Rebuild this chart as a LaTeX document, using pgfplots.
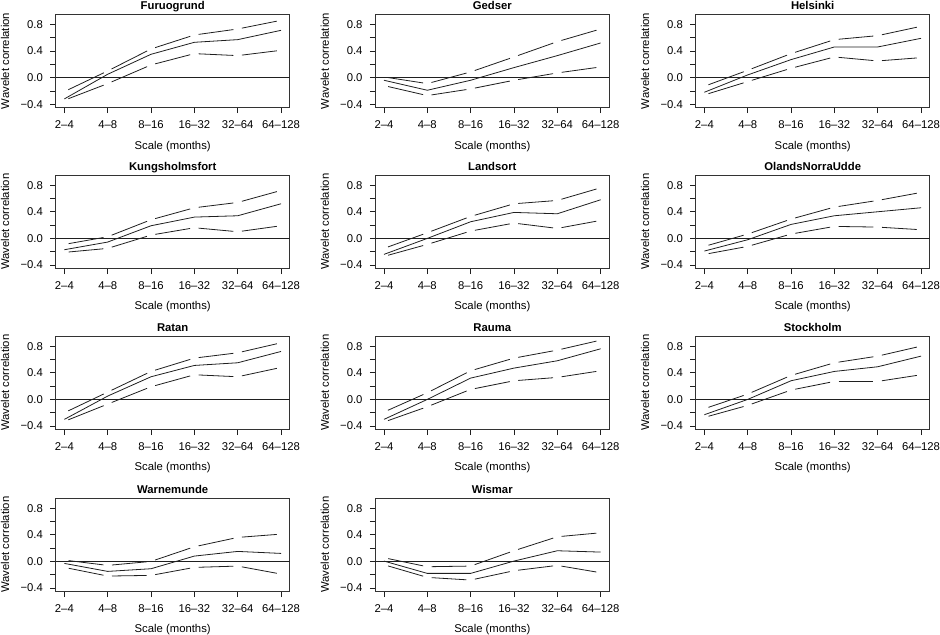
\documentclass[border=0pt]{standalone}
\usepackage{fontspec}
\setmainfont{Liberation Sans}
\usepackage{pgfplots}
\usepackage{pgfplotstable}
\pgfplotsset{compat=1.18}
\usetikzlibrary{decorations.pathreplacing}

\pgfplotstableread{
x M U L
0 -0.32 -0.21 -0.34
1 0.05 0.10 -0.09
2 0.35 0.43 0.19
3 0.53 0.64 0.36
4 0.57 0.73 0.33
5 0.71 0.86 0.41
}\tFuruogrund
\pgfplotstableread{
x M U L
0 -0.04 0.01 -0.12
1 -0.19 -0.09 -0.27
2 -0.04 0.085 -0.17
3 0.15 0.31 -0.04
4 0.33 0.54 0.07
5 0.52 0.73 0.16
}\tGedser
\pgfplotstableread{
x M U L
0 -0.22 -0.13 -0.26
1 0.04 0.11 -0.06
2 0.27 0.36 0.14
3 0.46 0.57 0.31
4 0.46 0.63 0.25
5 0.59 0.77 0.30
}\tHelsinki
\pgfplotstableread{
x M U L
0 -0.17 -0.09 -0.21
1 -0.055 0.025 -0.15
2 0.19 0.28 0.05
3 0.32 0.46 0.16
4 0.34 0.54 0.10
5 0.52 0.72 0.19
}\tKungsholmsfort
\pgfplotstableread{
x M U L
0 -0.24 -0.15 -0.27
1 0.00 0.085 -0.09
2 0.25 0.33 0.11
3 0.39 0.52 0.23
4 0.37 0.57 0.15
5 0.58 0.76 0.27
}\tLandsort
\pgfplotstableread{
x M U L
0 -0.19 -0.12 -0.24
1 -0.02 0.065 -0.12
2 0.21 0.29 0.065
3 0.34 0.47 0.18
4 0.40 0.57 0.17
5 0.46 0.69 0.13
}\tOlands
\pgfplotstableread{
x M U L
0 -0.30 -0.20 -0.33
1 0.05 0.11 -0.07
2 0.34 0.42 0.19
3 0.51 0.62 0.37
4 0.55 0.70 0.34
5 0.72 0.85 0.48
}\tRatan
\pgfplotstableread{
x M U L
0 -0.30 -0.19 -0.34
1 0.00 0.10 -0.11
2 0.32 0.43 0.15
3 0.47 0.62 0.28
4 0.58 0.74 0.33
5 0.76 0.89 0.43
}\tRauma
\pgfplotstableread{
x M U L
0 -0.23 -0.14 -0.27
1 0.00 0.08 -0.09
2 0.28 0.36 0.14
3 0.42 0.55 0.27
4 0.49 0.65 0.27
5 0.65 0.80 0.37
}\tStockholm
\pgfplotstableread{
x M U L
0 -0.03 0.02 -0.09
1 -0.15 -0.06 -0.22
2 -0.11 0.00 -0.21
3 0.08 0.22 -0.09
4 0.15 0.36 -0.07
5 0.12 0.41 -0.19
}\tWarnemunde
\pgfplotstableread{
x M U L
0 0.005 0.055 -0.05
1 -0.18 -0.08 -0.24
2 -0.18 -0.07 -0.28
3 0.005 0.16 -0.14
4 0.16 0.37 -0.06
5 0.14 0.43 -0.17
}\tWismar

\tikzset{
  gapline/.style={draw=none, postaction={decorate},
    decoration={show path construction,
      lineto code={\draw[line width=0.8bp, black!88, shorten <=4.3bp, shorten >=4.3bp]
        (\tikzinputsegmentfirst) -- (\tikzinputsegmentlast);}}},
  midline/.style={line width=0.8bp, black!88},
  zeroline/.style={line width=0.7bp, black!88},
}

\pgfplotsset{
  panel/.style={
    scale only axis, width=234bp, height=93.5bp,
    xmin=-0.2, xmax=5.2, ymin=-0.452, ymax=0.952,
    xtick={0,1,2,3,4,5},
    xticklabels={2–4,4–8,8–16,16–32,32–64,64–128},
    ytick={-0.4,0,0.4,0.8},
    yticklabels={−0.4,0.0,0.4,0.8},
    minor ytick={-0.2,0.2,0.6},
    tick align=outside, xtick pos=bottom, ytick pos=left,
    major tick length=5.5bp, minor tick length=5.5bp,
    every tick/.style={line width=0.7bp, black!88},
    axis line style={line width=0.8bp, black!80},
    xticklabel style={anchor=north, inner sep=0pt, yshift=-7.0bp},
    yticklabel style={anchor=east, inner sep=0pt, xshift=-7.1bp},
    xlabel={Scale (months)}, ylabel={Wavelet correlation},
    every axis x label/.style={at={(axis description cs:0.5,0)}, anchor=base, yshift=-41.3bp},
    every axis y label/.style={at={(axis description cs:0,0.5)}, xshift=-50.5bp, rotate=90, anchor=center},
    every axis title/.style={at={(axis description cs:0.5,1)}, anchor=base, yshift=5bp, font=\bfseries},
    no markers,
  }
}

\newcommand{\panel}[4]{%
  \begin{axis}[panel, at={(#3bp,#4bp)}, anchor=south west, title={#2}]
    \addplot[zeroline] coordinates {(-0.2,0) (5.2,0)};
    \addplot[midline] table[x=x,y=M] {#1};
    \addplot[gapline] table[x=x,y=U] {#1};
    \addplot[gapline] table[x=x,y=L] {#1};
  \end{axis}}

\begin{document}
\fontsize{11.3bp}{13.5bp}\selectfont
\begin{tikzpicture}
\useasboundingbox (0,0) rectangle (940bp,-635bp);
\panel{\tFuruogrund}{Furuogrund}{55.7}{-107.7}
\panel{\tGedser}{Gedser}{375.3}{-107.7}
\panel{\tHelsinki}{Helsinki}{695.7}{-107.7}
\panel{\tKungsholmsfort}{Kungsholmsfort}{55.7}{-268.5}
\panel{\tLandsort}{Landsort}{375.3}{-268.5}
\panel{\tOlands}{OlandsNorraUdde}{695.7}{-268.5}
\panel{\tRatan}{Ratan}{55.7}{-429.5}
\panel{\tRauma}{Rauma}{375.3}{-429.5}
\panel{\tStockholm}{Stockholm}{695.7}{-429.5}
\panel{\tWarnemunde}{Warnemunde}{55.7}{-591.5}
\panel{\tWismar}{Wismar}{375.3}{-591.5}
\end{tikzpicture}
\end{document}
